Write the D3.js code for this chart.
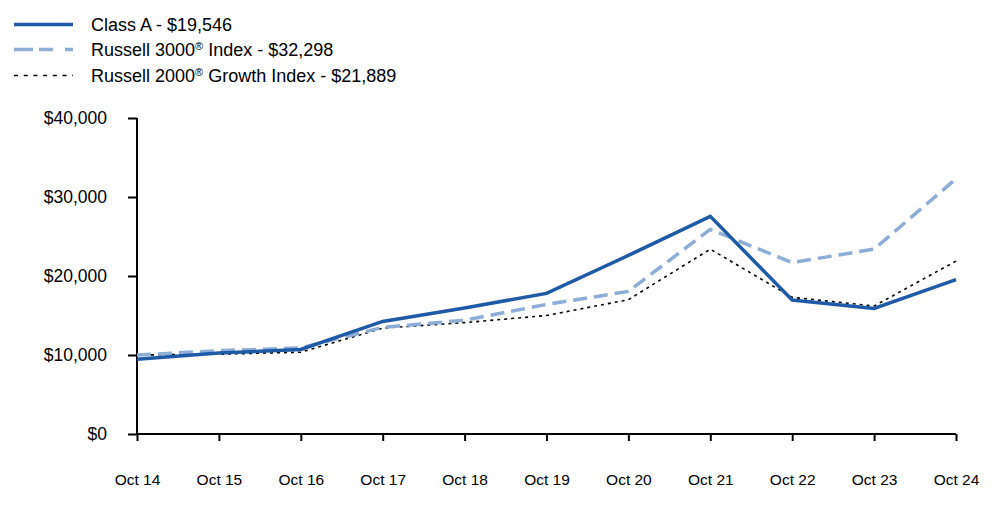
<!DOCTYPE html>
<html><head><meta charset="utf-8">
<script src="https://cdn.jsdelivr.net/npm/d3@7"></script>
<style>body{margin:0;background:#fff}svg{display:block;font-family:"Liberation Sans",Arial,sans-serif}</style>
</head><body><svg id="c" width="1000" height="523"></svg>
<script>
const categories = ["Oct 14","Oct 15","Oct 16","Oct 17","Oct 18","Oct 19","Oct 20","Oct 21","Oct 22","Oct 23","Oct 24"];
const classA = [9450,10250,10700,14250,15950,17800,22600,27550,16950,15900,19546];
const russell3000 = [10000,10550,10900,13500,14400,16400,18050,25900,21700,23400,32298];
const russell2000G = [10000,10100,10350,13400,14100,15000,17000,23400,17300,16200,21889];
const yTicks = [0,10000,20000,30000,40000];
const seriesNames = [["Class A - $19,546"],["Russell 3000","®"," Index - $32,298"],["Russell 2000","®"," Growth Index - $21,889"]];

const FONT = "'Liberation Sans', Arial, sans-serif";
const svg = d3.select("#c");
const x = d3.scalePoint().domain(categories).range([137,956]);
const y = d3.scaleLinear().domain([0,40000]).range([434,118]);

const yAxis = svg.append("g").attr("transform","translate(137,0)")
  .call(d3.axisLeft(y).tickValues(yTicks).tickSize(9).tickPadding(21).tickFormat(d=>"$"+d3.format(",")(d)));
const xAxis = svg.append("g").attr("transform","translate(0,434)")
  .call(d3.axisBottom(x).tickSize(7).tickPadding(33));
[yAxis,xAxis].forEach(a=>{
  a.selectAll(".domain").attr("stroke","#000").attr("stroke-width",2);
  a.selectAll(".tick line").attr("stroke","#000").attr("stroke-width",2);
  a.selectAll("text").attr("fill","#000").style("font-family",FONT);
});
yAxis.selectAll("text").style("font-size","17.5px");
xAxis.selectAll("text").style("font-size","15.5px");
xAxis.select(".domain").attr("d","M137,0H956");
yAxis.select(".domain").attr("d","M0,118V434");

const styles = [
  {data:classA, color:"#1f5aa6", w:3.5, dash:null},
  {data:russell3000, color:"#8eadd6", w:3.5, dash:"14,7"},
  {data:russell2000G, color:"#000", w:1.6, dash:"3,4"}
];
const line = d3.line().x((d,i)=>x(categories[i])).y(d=>y(d));
[2,1,0].forEach(k=>{
  const s = styles[k];
  svg.append("path").datum(s.data).attr("d",line).attr("fill","none")
    .attr("stroke",s.color).attr("stroke-width",s.w).attr("stroke-dasharray",s.dash)
    .attr("stroke-linejoin","miter");
});

const legY = [24.5,49.5,75.5];
styles.forEach((s,i)=>{
  svg.append("line").attr("x1",14).attr("x2",73).attr("y1",legY[i]).attr("y2",legY[i])
    .attr("stroke",s.color).attr("stroke-width",i==2?1.6:3.5)
    .attr("stroke-dasharray",i==1?"19,6,14,12":(i==2?"4,5.7":null));
  const t = svg.append("text").attr("x",91).attr("y",legY[i]+6.5).style("font-size","18px")
    .style("font-family",FONT).attr("fill","#000");
  seriesNames[i].forEach(part=>{
    const ts = t.append("tspan").text(part);
    if(part==="®") ts.attr("baseline-shift","super").style("font-size","11px");
  });
});
</script></body></html>
